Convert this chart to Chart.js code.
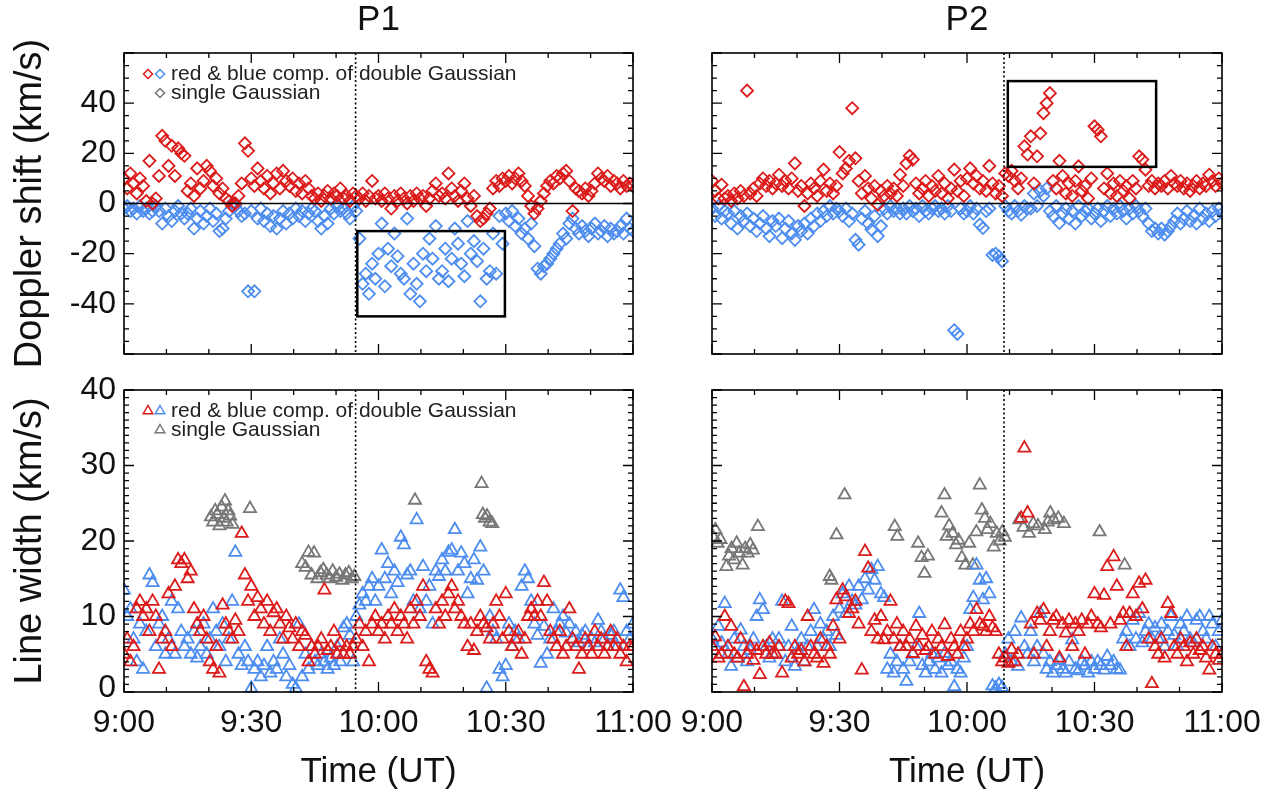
<!DOCTYPE html>
<html>
<head>
<meta charset="utf-8">
<title>P1 / P2 Doppler shift and line width</title>
<script src="https://cdn.jsdelivr.net/npm/chart.js@4.4.1/dist/chart.umd.min.js"></script>
<style>
  body { margin: 0; background: #fff; width: 1276px; height: 796px; position: relative; overflow: hidden; }
  canvas { position: absolute; }
</style>
</head>
<body>
<canvas id="p1-dop" width="690" height="370" style="left:0;top:0"></canvas>
<canvas id="p2-dop" width="626" height="370" style="left:650px;top:0"></canvas>
<canvas id="p1-wid" width="690" height="426" style="left:0;top:370px"></canvas>
<canvas id="p2-wid" width="626" height="426" style="left:650px;top:370px"></canvas>
<script>
// Time axis: minutes after 9:00 UT (sampling of the fits).
const times = [
  0,0.75,1.5,2.25,3,3.75,4.5,5.25,6,6.75,7.5,8.25,9,9.75,10.5,11.25,12,12.75,13.5,14.25,
  15,15.75,16.5,17.25,18,18.75,19.5,20.25,21,21.75,22.5,23.25,24,24.75,25.5,26.25,27,27.75,28.5,29.25,
  30,30.75,31.5,32.25,33,33.75,34.5,35.25,36,36.75,37.5,38.25,39,39.75,40.5,41.25,42,42.75,43.5,44.25,
  45,45.75,46.5,47.25,48,48.75,49.5,50.25,51,51.75,52.5,53.25,54,54.75,55.5,56.25,57,57.75,58.5,59.25,
  60,60.75,61.5,62.25,63,63.75,64.5,65.25,66,66.75,67.5,68.25,69,69.75,70.5,71.25,72,72.75,73.5,74.25,
  75,75.75,76.5,77.25,78,78.75,79.5,80.25,81,81.75,82.5,83.25,84,84.75,85.5,86.25,87,87.75,88.5,89.25,
  90,90.75,91.5,92.25,93,93.75,94.5,95.25,96,96.75,97.5,98.25,99,99.75,100.5,101.25,102,102.75,103.5,104.25,
  105,105.75,106.5,107.25,108,108.75,109.5,110.25,111,111.75,112.5,113.25,114,114.75,115.5,116.25,117,117.75,118.5,119.25,
  120,
];

const timeTickValues = [0, 30, 60, 90, 120];
const timeTickLabels = ["9:00", "9:30", "10:00", "10:30", "11:00"];
const dopTickValues = [40, 20, 0, -20, -40];
const widTickValues = [0, 10, 20, 30, 40];

// ----- P1, Doppler shift (km/s) -----
const p1DopRed = [
  10,6,12,8,4,10,7,1,17,0,2,11,27,25,15,23,11,22,20,19,
  5,8,3,14,6,9,15,13,7,10,4,6,2,1,-1,0,3,8,24,21,
  10,7,14,9,6,11,4,8,12,6,13,9,7,10,5,8,4,9,6,3,
  2,4,1,3,5,2,4,3,6,2,3,1,4,3,2,4,1,3,9,2,
  3,1,4,2,-2,3,1,4,2,0,3,1,4,2,3,-1,2,5,8,3,
  4,2,12,6,3,1,5,8,2,-1,3,-5,-7,-6,-4,-2,6,9,7,10,
  9,11,8,10,12,9,7,3,-1,-4,-2,1,4,7,9,8,11,10,12,13,
  9,-3,6,5,4,6,3,5,8,12,10,9,11,7,9,8,6,9,7,8,
  7,
];
const p1DopBlue = [
  -2,-1,-3,-2,-4,-1,-3,-2,-4,-3,-1,-3,-8,-2,-5,-7,-3,-1,-4,-6,
  -4,-2,-10,-6,-3,-8,-5,-2,-7,-4,-11,-10,-6,-3,0,-1,-3,-5,-4,-35,
  -3,-35,-6,-2,-7,-4,-9,-5,-10,-6,-3,-8,-4,-6,-2,-5,-3,-7,-4,-2,
  -3,-7,-10,-5,-8,-2,-4,-1,-3,-2,-4,-6,-1,-3,-14,-32,-28,-36,-24,-30,
  -20,-8,-33,-18,-25,-12,-21,-28,-30,-6,-36,-24,-32,-39,-20,-27,-14,-22,-9,-30,
  -27,-18,-31,-22,-10,-16,-24,-29,-7,-20,-15,-23,-39,-18,-30,-27,-12,-28,-5,-16,
  -4,-7,-3,-9,-6,-12,-10,-14,-8,-17,-26,-28,-25,-24,-22,-20,-18,-16,-12,-14,
  -8,-6,-10,-12,-9,-11,-13,-10,-8,-12,-11,-9,-13,-10,-12,-11,-9,-12,-6,-10,
  -11,
];

// ----- P2, Doppler shift (km/s) -----
const p2DopRed = [
  9,5,2,7.5,2,3,1,4,2,5,3,45,4,6,3,8,10,7,9,6,
  8,11.5,7,9,6,10,16,5,7,-1,4,8,6,3,9,13.5,5,8,4,7,
  20.5,12,14,17,38,18,9,4,11,6,2,7,-0.5,5,3,7,4,6,3,11.5,
  7,16,19,17.5,8,4,6,9,3,7,5,11,4,8,2,6,13.5,5,9,3,
  10,14,8,11,6,9,5,15,8,4,7,3,12,11,13,9,6,10,22.8,19.5,
  26.8,8,18.8,28,36,40,44,9,6,17,11,4,8,3,9,14.8,5,7,2,10,
  30.8,29.4,26.8,6,12,4,8,3,9,5,7,2,9,6,18.8,17.5,13.5,7,9,6,
  8,7,9,6,11,8,7,9,6,8,5,7,9,6,8,7,11.5,9,7,10,
  8,
];
const p2DopBlue = [
  -2,-5,-1,-6,-3,-4,-8,-3,-10,-5,-7,-4,-9,-6,-11,-8,-5,-10,-13,-7,
  -9,-6,-13.8,-10,-7,-12,-14.5,-9,-11,-8,-12,-6,-9,-4,-7,-3,-5,-1,-4,-2,
  -3,-5,-2,-7,-4,-14.5,-16.4,-6,-3,-8,-10.4,-5,-13,-9,-2,-4,-1,-3,-2,-4,
  -2,-4,-1,-3,-2,-5,-1,-3,-4,-2,-1,-3,-2,-4,-1,-3,-50.5,-52,-2,-4,
  -3,-1,-4,-2,-8.4,-9.8,-3,-2,-20.5,-20,-21,-23,-1,-3,-4,-1,-3,-4.5,-1,-2,
  -2,4,-1,5,3,6,-3,-5,-1,-7.8,-4,-2,-6,-3,-8,-1,-5,-3,-2,-6,
  -4,-2,-7,-3,-1,-5,-2,-4,-1,-3,-6,-2,-4,-1,-3,-5,-2,-8,-11,-10,
  -12,-10,-12.4,-11,-9,-7,-4,-8,-6,-3,-7,-5,-8,-2,-6,-4,-7,-3,-5,-2,
  -4,
];

// ----- P1, line width (km/s) -----
const p1WidRed = [
  5,7,4,6,11,12,10,11,8,12,10,3,7,8,13,6,14,17.5,17,17.5,
  15,16,11,9,8,10,7,4,3,6,2.5,11.5,9,8,7,9.5,8,21,15.5,12,
  14,10,12.5,11,9,12,8,10.5,11,9,7,10,8.5,7,9,6,8,7.5,4,6,
  5,6,7,13.5,5.5,6,8,5,6.5,5,6,5,6,7,9,6,8,4,9,10,
  8,9,7,10,9,11,8,10,9,7,11,9,12,10,14,4,3,2.5,11,9,
  12,10,13,14,11,12,10,9,6,9,5.5,8,10,9,8.5,7,9,12,10,7,
  13,8,6,7,8,5,7,10,11,10,12,10,14.5,12,8,7,6,8,5,6,
  11,7,6,3,5,7,6,5,8,6,7,5,6,8,6,7,5,6,4,6,
  6,
];
const p1WidBlue = [
  13.5,10,11,7,4,9,3,8,15.5,14.5,6,9,10,5,7,12,5,11,8,6,
  7,5,8,4.5,6,9,5,7,11,8,6,9,4,7,12,18.5,5,3.5,6,4,
  0.5,3,4,2,3.5,6,2.5,4,3,7,5,2,3.5,1,0.5,9,2,5,3,6,
  4,3.5,5,4,3,4.5,3.5,6,4,8.5,9,7.5,4,10,11.5,13,12,14,15,12,
  14,18.8,15,17,13,16,14.5,20.5,19.5,15.5,16,12,22.8,11,16.6,12,14,9,16,15.3,
  17.5,16,18.5,18.8,21.5,16,18.4,17,13,15,17.5,14.8,19.2,16,0.5,10,8,7,3,2,
  3.5,9,6,8,7,14,16,15,12,9,7.5,3.8,8.7,5,7,11,8,9,10,7.8,
  9,7,8,6.5,7.5,8,6,7,6.5,9.5,8,7,6,7.5,8,6,13.5,12.5,8,7,
  9,
];
// single Gaussian fits: [minutes after 9:00, width]
const p1WidGray = [
  [20.5,23.2],[21,22.5],[21.5,24],[22,23.5],[22.5,22],[23,24.5],[23.5,23],[23.8,25.3],
  [24.2,22.5],[24.6,24],[25,23.3],[25.6,22.2],[29.7,24.3],
  [42,17],[42.8,16.5],[43.5,18.5],[44.2,15.5],[44.8,18.4],[45.6,15],[46.3,15.8],[47,16.2],
  [47.8,15.5],[48.5,15],[49.2,16],[50,15.2],[50.8,15.6],[51.5,14.8],[52.2,15.5],[53,15.8],
  [53.7,15],[54.3,15.3],
  [68.6,25.4],[84.3,27.6],[84.6,23.5],[85.1,23],[85.6,23.3],[86.2,22.5],[86.8,22.3],
];

// ----- P2, line width (km/s) -----
const p2WidRed = [
  6,7.3,4.5,5,10,6,8.7,5,4.5,7,0.7,5,6,4.2,5.5,2.3,6,5,6.5,5,
  5,6,2.5,12,11.7,4.5,6,5,5.5,4,10,6,5,4.5,7,3.8,6,5,8.7,12.2,
  7,13.5,12.6,10.4,11,12,9,2.9,18.6,16.4,8,9.5,7,10,6.9,8,12,7,9,6,
  8,6,7,5.1,8.7,6,7.5,5.5,6,8,5,7,6,8.9,4.7,7,6,5,8,6,
  7,9,8,10.9,9,8.7,8,10,8.5,8,5,4,4.5,3.8,5.6,4,5,23,32.3,23.7,
  9,5,10.4,9.5,10.9,6,8,9.5,10,4.5,9,7.8,9.5,6,9,8,9.5,5,9,10,
  13,9,8.5,12.8,16.6,9,17.9,14,9.5,10.4,6,10.4,13,10,14.4,11,14.8,7,1.1,6,
  5,7,4.5,11.7,10.4,6,5,7,6,4,6.5,5,7,5.5,6,4.5,2.9,6,5,4.2,
  5,
];
const p2WidBlue = [
  7,6,8.7,6.5,11.7,5,3.4,7,4.5,8.2,6,4,5.5,7,10,12.2,10.9,6,4.5,7,
  5,7,12,4,6,8.7,3.4,5.5,7,4,6,8,10.9,6,9,7,8,6,10,7.5,
  11,13,10.4,14,12,11.5,14,12.2,15,13.5,16.2,14.8,16.6,13,12.5,3,5,2.5,4,6,
  3,1.4,4,5,6,10.4,3.5,2.5,4,5,3,4.5,2.5,5.1,3.5,4,0.7,3,2.5,4.5,
  6,10.9,12.5,16.8,14.8,12.2,15,13,0.8,0.5,1,0.6,5,7,4,8,3.4,9.8,6,5,
  8,4,6,10.4,5,3,4,2.5,3.5,4.2,3,2.5,4,6.9,3,2.8,4,3.5,2.5,4,
  3,4,3.5,2.9,4.7,3.5,4,3,2.9,7,8,6,9.5,7,10.4,6.5,8,9,7,8.5,
  7,9,6,8,10,7.5,6,9,8,10,7,6.5,9.5,10,8,7,10,9,6,8,
  9.5,
];
const p2WidGray = [
  [0.3,20.5],[0.8,21.5],[1.3,19.7],[2,20.2],[3.4,16.6],[4,18],[4.6,19],[5.2,17.5],[5.8,19.7],
  [6.4,18.4],[7.2,16.8],[7.8,19],[8.4,18.4],[9,19.5],[9.6,18.8],[10.8,21.9],
  [27.7,15.3],[28.1,14.8],[29.3,20.8],[31.2,26.1],[43,21.9],[43.6,20.6],
  [48.5,19.7],[49.3,17.8],[50,15.7],[50.8,18],[54,23.7],[54.7,26.1],[55.2,20.6],[55.8,22],
  [56.6,21],[57.4,19.5],[58,20.1],[58.8,17.8],[59.6,16.8],[60.5,19.7],[61.4,16.8],[62.2,21.2],
  [63,27.4],[63.5,24.1],[64.2,23],[64.8,21.5],[65.5,22.3],[66.3,19.2],[67,21],[67.7,20],
  [68.3,21.2],[68.9,20.5],[72.3,22.8],[73.3,21.8],[74.6,21],[75.6,22.3],[76.7,22],[78.3,21.5],
  [79,22.5],[79.6,23.7],[80.4,22.8],[81.5,23],[82.8,22.3],[91.2,21.2],[97.1,16.8],
];

// Event time (dotted line) and the boxed regions [t0, t1, v0, v1].
const p1EventTime = 54.6;
const p2EventTime = 68.7;
const p1DopBox = [55, 89.8, -45, -11];
const p2DopBox = [69.6, 104.5, 14.6, 48.8];

const FONT = '"Liberation Sans", Arial, Helvetica, sans-serif';
const RED = "#dc1b1b";
const BLUE = "#4d8def";
const GRAY = "#777777";

function fromTimes(vals) { return vals.map((v, i) => ({ x: times[i], y: v })); }
function fromPairs(list) { return list.map(([x, y]) => ({ x, y })); }

// Hollow legend marker.
function marker(ctx, style, x, y, r, color) {
  ctx.beginPath();
  if (style === "rectRot") {
    ctx.moveTo(x, y - r); ctx.lineTo(x + r, y); ctx.lineTo(x, y + r); ctx.lineTo(x - r, y);
  } else {
    ctx.moveTo(x, y - r); ctx.lineTo(x + r * 0.866, y + r / 2); ctx.lineTo(x - r * 0.866, y + r / 2);
  }
  ctx.closePath();
  ctx.strokeStyle = color; ctx.lineWidth = 1.5; ctx.stroke();
}

// Frame, inward ticks, labels, reference lines and legend (IDL-style panel).
const panelDecor = {
  id: "panelDecor",
  afterDatasetsDraw(chart, args, o) {
    const ctx = chart.ctx, a = chart.chartArea;
    const xs = chart.scales.x, ys = chart.scales.y;
    const X = (v) => xs.getPixelForValue(v), Y = (v) => ys.getPixelForValue(v);
    ctx.save();
    ctx.strokeStyle = "#000";
    ctx.lineCap = "butt";

    if (o.zero) {
      ctx.lineWidth = 1.6;
      ctx.beginPath(); ctx.moveTo(a.left, Y(0)); ctx.lineTo(a.right, Y(0)); ctx.stroke();
    }
    if (o.box) {
      const [t0, t1, v0, v1] = o.box;
      ctx.lineWidth = 2.5;
      ctx.strokeRect(X(t0), Y(v1), X(t1) - X(t0), Y(v0) - Y(v1));
    }
    // dotted event line
    ctx.lineWidth = 1.6;
    ctx.setLineDash([2, 2.5]);
    ctx.beginPath(); ctx.moveTo(X(o.event), a.top); ctx.lineTo(X(o.event), a.bottom); ctx.stroke();
    ctx.setLineDash([]);

    // frame
    ctx.lineWidth = 1.6;
    ctx.strokeRect(a.left, a.top, a.right - a.left, a.bottom - a.top);

    // inward ticks on all four sides
    ctx.lineWidth = 1.3;
    ctx.beginPath();
    for (let t = xs.min; t <= xs.max; t += 10) {
      const len = t % 30 === 0 ? 10 : 5, px = X(t);
      ctx.moveTo(px, a.bottom); ctx.lineTo(px, a.bottom - len);
      ctx.moveTo(px, a.top); ctx.lineTo(px, a.top + len);
    }
    for (let v = ys.min; v <= ys.max; v += o.yMinor) {
      const len = v % o.yMajor === 0 ? 10 : 5, py = Y(v);
      ctx.moveTo(a.left, py); ctx.lineTo(a.left + len, py);
      ctx.moveTo(a.right, py); ctx.lineTo(a.right - len, py);
    }
    ctx.stroke();

    ctx.fillStyle = "#111";
    // y tick labels
    if (o.yLabels) {
      ctx.font = "32px " + FONT;
      ctx.textAlign = "right"; ctx.textBaseline = "middle";
      o.yLabels.forEach((v) => ctx.fillText(String(v), a.left - 8, Math.min(Y(v), a.bottom - 4)));
    }
    // x tick labels + title
    if (o.xLabels) {
      ctx.font = "32px " + FONT;
      ctx.textAlign = "center"; ctx.textBaseline = "middle";
      timeTickValues.forEach((t, i) => ctx.fillText(timeTickLabels[i], X(t), a.bottom + 31));
      ctx.font = "35px " + FONT;
      ctx.fillText("Time (UT)", (a.left + a.right) / 2, a.bottom + 80);
    }
    if (o.yTitle) {
      ctx.save();
      ctx.translate(31, (a.top + a.bottom) / 2);
      ctx.rotate(-Math.PI / 2);
      ctx.font = "38px " + FONT;
      ctx.textAlign = "center"; ctx.textBaseline = "middle";
      ctx.fillText(o.yTitle, 0, 0);
      ctx.restore();
    }
    if (o.title) {
      ctx.font = "35px " + FONT;
      ctx.textAlign = "center"; ctx.textBaseline = "middle";
      ctx.fillText(o.title, (a.left + a.right) / 2, a.top - 33);
    }
    if (o.legend) {
      const y1 = a.top + 21, y2 = a.top + 40;
      const r = o.legend === "rectRot" ? 4.5 : 5.5;
      marker(ctx, o.legend, a.left + 24, y1, r, RED);
      marker(ctx, o.legend, a.left + 36, y1, r, BLUE);
      marker(ctx, o.legend, a.left + 36, y2, r, GRAY);
      ctx.fillStyle = "#222";
      ctx.font = "21px " + FONT;
      ctx.textAlign = "left"; ctx.textBaseline = "middle";
      ctx.fillText("red & blue comp. of double Gaussian", a.left + 47, y1);
      ctx.fillText("single Gaussian", a.left + 47, y2);
    }
    ctx.restore();
  },
};

function series(data, color, style, radius) {
  return {
    data,
    pointStyle: style,
    pointRadius: radius,
    pointBorderWidth: 1.8,
    pointBorderColor: color,
    pointBackgroundColor: "rgba(0,0,0,0)",
    showLine: false,
    clip: 1,
  };
}

function makePanel(id, datasets, yRange, pad, decor) {
  return new Chart(document.getElementById(id), {
    type: "scatter",
    data: { datasets },
    options: {
      responsive: false,
      animation: false,
      devicePixelRatio: 1,
      events: [],
      layout: { padding: pad, autoPadding: false },
      plugins: { legend: { display: false }, tooltip: { enabled: false }, panelDecor: decor },
      scales: {
        x: { type: "linear", min: 0, max: 120, display: false },
        y: { type: "linear", min: yRange[0], max: yRange[1], display: false },
      },
    },
    plugins: [panelDecor],
  });
}

const DIA = 6, TRI = 7;
const padLeft = { left: 124, right: 57 };
const padRight = { left: 62, right: 54 };

makePanel("p1-dop",
  [series(fromTimes(p1DopRed), RED, "rectRot", DIA), series(fromTimes(p1DopBlue), BLUE, "rectRot", DIA)],
  [-60, 60], { ...padLeft, top: 53, bottom: 16 },
  { zero: true, box: p1DopBox, event: p1EventTime, yMinor: 5, yMajor: 20, yLabels: dopTickValues,
    yTitle: "Doppler shift (km/s)", title: "P1", legend: "rectRot" });

makePanel("p2-dop",
  [series(fromTimes(p2DopRed), RED, "rectRot", DIA), series(fromTimes(p2DopBlue), BLUE, "rectRot", DIA)],
  [-60, 60], { ...padRight, top: 53, bottom: 16 },
  { zero: true, box: p2DopBox, event: p2EventTime, yMinor: 5, yMajor: 20, title: "P2" });

makePanel("p1-wid",
  [series(fromTimes(p1WidRed), RED, "triangle", TRI), series(fromTimes(p1WidBlue), BLUE, "triangle", TRI),
   series(fromPairs(p1WidGray), GRAY, "triangle", TRI)],
  [0, 40], { ...padLeft, top: 20, bottom: 104 },
  { event: p1EventTime, yMinor: 1, yMajor: 10, yLabels: widTickValues, xLabels: true,
    yTitle: "Line width (km/s)", legend: "triangle" });

makePanel("p2-wid",
  [series(fromTimes(p2WidRed), RED, "triangle", TRI), series(fromTimes(p2WidBlue), BLUE, "triangle", TRI),
   series(fromPairs(p2WidGray), GRAY, "triangle", TRI)],
  [0, 40], { ...padRight, top: 20, bottom: 104 },
  { event: p2EventTime, yMinor: 1, yMajor: 10, xLabels: true });
</script>
</body>
</html>
